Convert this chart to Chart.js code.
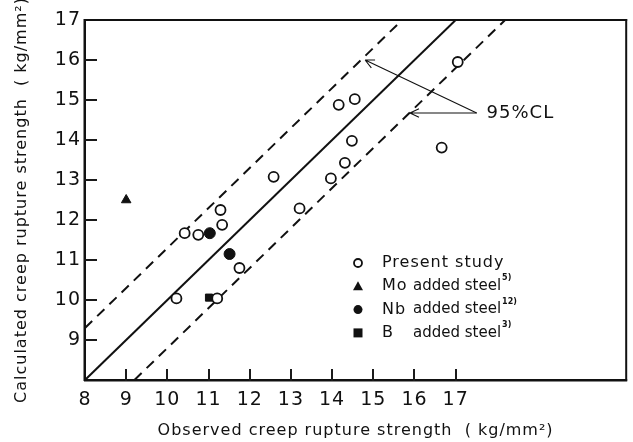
<!DOCTYPE html>
<html>
<head>
<meta charset="utf-8">
<script src="https://cdn.jsdelivr.net/npm/chart.js@4"></script>
<style>
  html, body { margin: 0; padding: 0; background: #fff; }
  #wrap { width: 633px; height: 442px; }
</style>
</head>
<body>
<div id="wrap"><canvas id="creepChart" width="633" height="442"></canvas></div>
<script>
// ---------------------------------------------------------------
//  data (kg/mm2)
// ---------------------------------------------------------------
const presentX = [10.22, 11.21, 11.75, 10.42, 10.75, 11.33, 11.29, 12.58, 13.21, 13.97, 14.31, 14.48, 14.16, 14.55, 16.66, 17.05];
const presentY = [10.04, 10.04, 10.80, 11.67, 11.63, 11.88, 12.25, 13.08, 12.29, 13.04, 13.43, 13.98, 14.88, 15.02, 13.81, 15.95];
const moX = [9.0];
const moY = [12.5];
const nbX = [11.03, 11.51];
const nbY = [11.67, 11.15];
const bX = [11.01];
const bY = [10.06];

// y = x and the 95 % confidence band
const fitX = [8, 17];
const fitY = [8, 17];
const upperX = [8, 15.7];
const upperY = [9.3, 17];
const lowerX = [9.2, 18.2];
const lowerY = [8, 17];

const xTicks = [8, 9, 10, 11, 12, 13, 14, 15, 16, 17];
const yTicks = [9, 10, 11, 12, 13, 14, 15, 16, 17];

// "95%CL" note: joint, arrow tips, text anchor (data units)
const clJoint = [17.51, 14.675];
const clTips = [[14.8, 16.0], [15.89, 14.675]];
const clText = [17.75, 14.66];

const legendRows = [
  { mark: 'circle', name: 'Present study', rest: '', sup: '' },
  { mark: 'triangle', name: 'Mo', rest: 'added steel', sup: '5)' },
  { mark: 'dot', name: 'Nb', rest: 'added steel', sup: '12)' },
  { mark: 'square', name: 'B', rest: 'added steel', sup: '3)' }
];

const FONT = '"DejaVu Sans", sans-serif';

function pts(xs, ys) {
  return xs.map((x, i) => ({ x: x, y: ys[i] }));
}

// inward tick marks on the bottom and left edges
function drawTicks(chart) {
  const ctx = chart.ctx;
  const a = chart.chartArea;
  const xs = chart.scales.x, ys = chart.scales.y;
  ctx.save();
  ctx.setLineDash([]);
  ctx.strokeStyle = '#1a1a1a';
  ctx.lineWidth = 2;
  ctx.lineCap = 'butt';
  ctx.beginPath();
  xTicks.slice(1).forEach(v => {
    const px = Math.round(xs.getPixelForValue(v));
    ctx.moveTo(px, a.bottom + 1);
    ctx.lineTo(px, a.bottom - 11);
  });
  yTicks.slice(0, -1).forEach(v => {
    const py = Math.round(ys.getPixelForValue(v));
    ctx.moveTo(a.left - 1, py);
    ctx.lineTo(a.left + 12, py);
  });
  ctx.stroke();
  ctx.restore();
}

// ---------------------------------------------------------------
//  plugin: frame, ticks, arrows and legend
// ---------------------------------------------------------------
const decorPlugin = {
  id: 'decor',
  beforeDraw(chart) { chart.ctx.letterSpacing = '1px'; },
  beforeDatasetsDraw(chart) { drawTicks(chart); },
  afterDraw(chart) {
    const ctx = chart.ctx;
    const a = chart.chartArea;
    const xs = chart.scales.x, ys = chart.scales.y;
    ctx.save();
    ctx.setLineDash([]);
    ctx.fillStyle = '#111';
    // box round the plot
    ctx.fillRect(a.left - 1, a.top - 1, a.right - a.left + 2, 2);
    ctx.fillRect(a.left - 1, a.bottom - 1, a.right - a.left + 2, 2.5);
    ctx.fillRect(a.left - 1.5, a.top - 1, 2.5, a.bottom - a.top + 2);
    ctx.fillRect(a.right - 1, a.top - 1, 2, a.bottom - a.top + 2);
    ctx.restore();
    drawTicks(chart);

    ctx.save();
    ctx.setLineDash([]);
    // 95 % CL arrows
    const jx = xs.getPixelForValue(clJoint[0]), jy = ys.getPixelForValue(clJoint[1]);
    ctx.strokeStyle = '#111';
    ctx.fillStyle = '#111';
    ctx.lineWidth = 1.1;
    clTips.forEach(t => {
      const tx = xs.getPixelForValue(t[0]), ty = ys.getPixelForValue(t[1]);
      const ang = Math.atan2(jy - ty, jx - tx);
      ctx.beginPath();
      ctx.moveTo(jx, jy); ctx.lineTo(tx, ty);
      [-0.45, 0.45].forEach(d => {
        ctx.moveTo(tx, ty);
        ctx.lineTo(tx + 10 * Math.cos(ang + d), ty + 10 * Math.sin(ang + d));
      });
      ctx.stroke();
    });
    ctx.font = '18px ' + FONT;
    ctx.letterSpacing = '1px';
    ctx.textBaseline = 'middle';
    ctx.fillText('95%CL', xs.getPixelForValue(clText[0]), ys.getPixelForValue(clText[1]));

    // legend inside the plot
    const mx = 358, tx = 382, rx = 413;
    legendRows.forEach((row, i) => {
      const y = 263 + i * 23.3;
      ctx.fillStyle = '#111';
      ctx.lineWidth = 1.8;
      ctx.beginPath();
      if (row.mark === 'circle') {
        ctx.arc(mx, y, 4, 0, Math.PI * 2); ctx.stroke();
      } else if (row.mark === 'triangle') {
        ctx.moveTo(mx, y - 5); ctx.lineTo(mx + 5, y + 4); ctx.lineTo(mx - 5, y + 4); ctx.closePath(); ctx.fill();
      } else if (row.mark === 'dot') {
        ctx.arc(mx, y, 4.5, 0, Math.PI * 2); ctx.fill();
      } else {
        ctx.rect(mx - 4.5, y - 4.5, 9, 9); ctx.fill();
      }
      ctx.font = '16px ' + FONT;
      ctx.letterSpacing = '1px';
      ctx.fillText(row.name, tx, y);
      if (row.rest) {
        ctx.font = '15px ' + FONT;
        ctx.letterSpacing = '0px';
        ctx.fillText(row.rest, rx, y);
        const w = ctx.measureText(row.rest).width;
        ctx.font = 'bold 8px ' + FONT;
        ctx.fillText(row.sup, rx + w + 1, y - 8);
      }
    });
    ctx.restore();
  }
};

// ---------------------------------------------------------------
//  chart
// ---------------------------------------------------------------
const lineSet = (label, xs, ys, dash) => ({
  type: 'line', label: label, data: pts(xs, ys),
  borderColor: '#111', borderWidth: 2, borderDash: dash,
  pointRadius: 0, fill: false, tension: 0, order: 2
});

new Chart(document.getElementById('creepChart'), {
  type: 'scatter',
  data: {
    datasets: [
      { label: 'Present study', data: pts(presentX, presentY), pointStyle: 'circle', pointRadius: 5,
        borderColor: '#111', backgroundColor: '#fff', borderWidth: 1.8, order: 1 },
      { label: 'Mo added steel', data: pts(moX, moY), pointStyle: 'triangle', pointRadius: 5.5,
        borderColor: '#111', backgroundColor: '#111', borderWidth: 1, order: 1 },
      { label: 'Nb added steel', data: pts(nbX, nbY), pointStyle: 'circle', pointRadius: 5.5,
        borderColor: '#111', backgroundColor: '#111', borderWidth: 1, order: 1 },
      { label: 'B added steel', data: pts(bX, bY), pointStyle: 'rect', pointRadius: 5,
        borderColor: '#111', backgroundColor: '#111', borderWidth: 1, order: 1 },
      lineSet('fit', fitX, fitY, []),
      lineSet('upper', upperX, upperY, [10, 7]),
      lineSet('lower', lowerX, lowerY, [10, 7])
    ]
  },
  options: {
    responsive: false,
    animation: false,
    layout: { padding: { top: 20, right: 5, left: 0, bottom: 0 } },
    plugins: { legend: { display: false }, tooltip: { enabled: false } },
    scales: {
      x: {
        type: 'linear', min: 8, max: 21.14,
        afterBuildTicks: axis => { axis.ticks = xTicks.map(v => ({ value: v })); },
        afterFit: axis => { axis.height = 62; },
        grid: { display: false, drawTicks: false },
        border: { display: false },
        ticks: { color: '#111', font: { family: FONT, size: 19 }, padding: 9, maxRotation: 0, autoSkip: false },
        title: { display: true, text: 'Observed creep rupture strength  ( kg/mm²)', color: '#111',
          font: { family: FONT, size: 16 }, padding: { top: 0, bottom: 2 } }
      },
      y: {
        type: 'linear', min: 8, max: 17,
        afterBuildTicks: axis => { axis.ticks = yTicks.map(v => ({ value: v })); },
        afterFit: axis => { axis.width = 85; },
        grid: { display: false, drawTicks: false },
        border: { display: false },
        ticks: { color: '#111', font: { family: FONT, size: 19 }, padding: 4, autoSkip: false },
        title: { display: true, text: 'Calculated creep rupture strength  ( kg/mm²)', color: '#111',
          font: { family: FONT, size: 16 }, padding: { top: 12, bottom: 0 } }
      }
    }
  },
  plugins: [decorPlugin]
});
</script>
</body>
</html>
